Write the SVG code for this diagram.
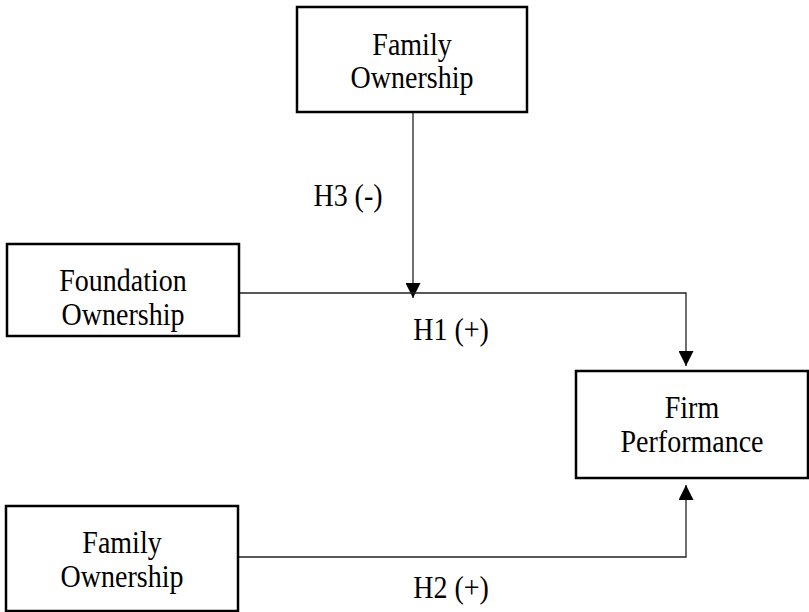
<svg xmlns="http://www.w3.org/2000/svg" width="809" height="612" viewBox="0 0 809 612">
<style>
.box{fill:#fff;stroke:#000;stroke-width:2.5}
.t{font-family:"Liberation Serif","Times New Roman",serif;font-size:28px;fill:#000;text-anchor:middle}
.c{fill:none;stroke:#222;stroke-width:1.3}
</style>
<defs>
<marker id="ah" viewBox="0 0 15 15" refX="15" refY="7.5" markerWidth="15" markerHeight="15" markerUnits="userSpaceOnUse" orient="auto">
<path d="M0,0 L15,7.5 L0,15 Z" fill="#000"/>
</marker>
</defs>
<g id="connectors">
<path class="c" d="M413,113 V298" marker-end="url(#ah)"/>
<path class="c" d="M240,293 H686 V366" marker-end="url(#ah)"/>
<path class="c" d="M239,557 H686 V485" marker-end="url(#ah)"/>
<text class="t" transform="translate(348,206) scale(1,1.15)">H3 (-)</text>
<text class="t" transform="translate(451,340) scale(1,1.15)">H1 (+)</text>
<text class="t" transform="translate(451,598) scale(1,1.15)">H2 (+)</text>
</g>
<g id="family-top">
<rect class="box" x="297" y="7" width="230" height="105"/>
<text class="t" transform="translate(412,55) scale(1,1.15)">Family</text>
<text class="t" transform="translate(412,88) scale(1,1.15)">Ownership</text>
</g>
<g id="foundation">
<rect class="box" x="7" y="244" width="232" height="92"/>
<text class="t" transform="translate(123,291) scale(1,1.15)">Foundation</text>
<text class="t" transform="translate(123,325) scale(1,1.15)">Ownership</text>
</g>
<g id="firm">
<rect class="box" x="576" y="371" width="232" height="107"/>
<text class="t" transform="translate(692,418) scale(1,1.15)">Firm</text>
<text class="t" transform="translate(692,452) scale(1,1.15)">Performance</text>
</g>
<g id="family-bottom">
<rect class="box" x="6" y="506" width="232" height="105"/>
<text class="t" transform="translate(122,553) scale(1,1.15)">Family</text>
<text class="t" transform="translate(122,587) scale(1,1.15)">Ownership</text>
</g>
</svg>
